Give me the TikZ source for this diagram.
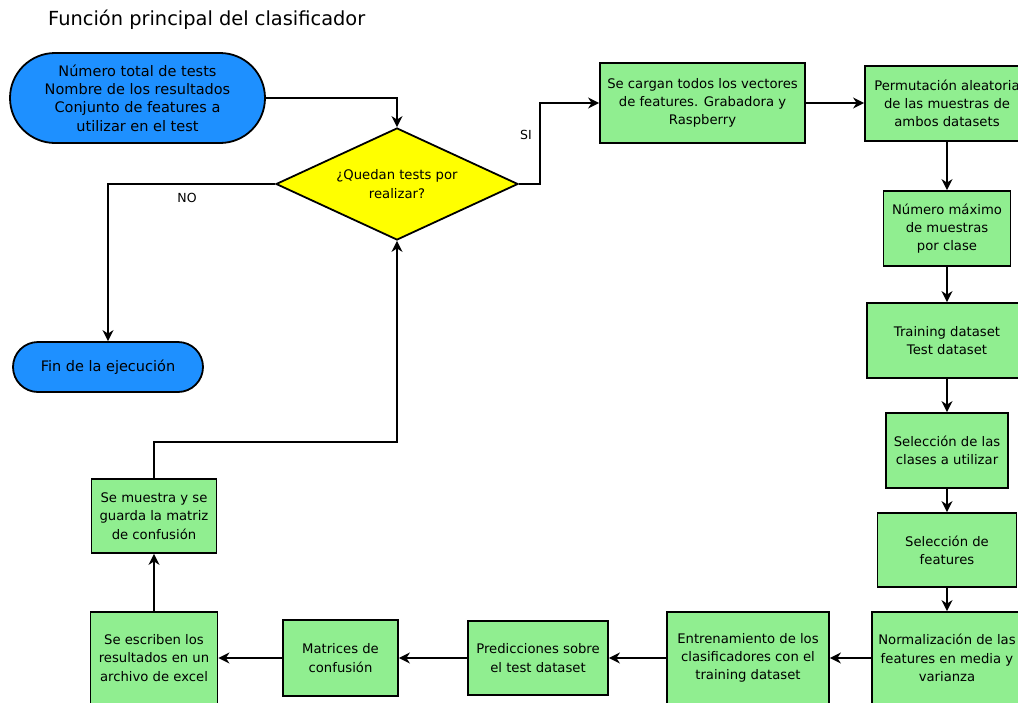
\documentclass[tikz,border=0pt]{standalone}
\usepackage{fontspec}
\setmainfont{DejaVu Sans}
\usetikzlibrary{shapes.geometric,arrows.meta}

\definecolor{termblue}{HTML}{1E90FF}
\definecolor{procgreen}{HTML}{90EE90}
\definecolor{decyellow}{HTML}{FFFF00}

\tikzset{
  base/.style={draw=black, line width=1.8pt, inner sep=0pt, align=center,
    font=\fontsize{13.2}{18.3}\selectfont},
  proc/.style={base, fill=procgreen, rectangle},
  term/.style={base, fill=termblue, rectangle,
    font=\fontsize{14.5}{18.3}\selectfont},
  decision/.style={base, fill=decyellow, diamond, aspect=2.16},
  arr/.style={draw=black, line width=2pt,
    -{Stealth[length=11pt, width=11pt, inset=3.5pt]}},
  lbl/.style={font=\fontsize{12.5}{15}\selectfont, inner sep=0pt},
}

\begin{document}
\begin{tikzpicture}[x=1pt, y=-1pt]
  \useasboundingbox (0,0) rectangle (1018,702);
  \clip (0,0) rectangle (1018,702);

  % title
  \node[font=\fontsize{19.4}{22}\selectfont, anchor=west, inner sep=0pt] (title) at (48,20)
    {Función principal del clasificador};

  % terminals and decision
  \node[term, minimum width=255pt, minimum height=90pt, rounded corners=45pt] (start) at (137.5,98)
    {Número total de tests\\Nombre de los resultados\\Conjunto de features a\\utilizar en el test};
  \node[term, minimum width=190pt, minimum height=50pt, rounded corners=25pt] (fin) at (108,367)
    {Fin de la ejecución};
  \node[decision, minimum width=242pt, minimum height=112pt] (dec) at (397,184)
    {¿Quedan tests por\\realizar?};

  % process boxes
  \node[proc, minimum width=205pt, minimum height=80pt] (b1) at (702.5,103)
    {Se cargan todos los vectores\\de features. Grabadora y\\Raspberry};
  \node[proc, minimum width=164pt, minimum height=75pt] (b2) at (947,103.5)
    {Permutación aleatoria\\de las muestras de\\ambos datasets};
  \node[proc, minimum width=127pt, minimum height=75pt] (b3) at (947,228.5)
    {Número máximo\\de muestras\\por clase};
  \node[proc, minimum width=160pt, minimum height=75pt] (b4) at (947,340.5)
    {Training dataset\\Test dataset};
  \node[proc, minimum width=122pt, minimum height=75pt] (b5) at (947,450.5)
    {Selección de las\\clases a utilizar};
  \node[proc, minimum width=139pt, minimum height=74pt] (b6) at (947,550)
    {Selección de\\features};
  \node[proc, minimum width=150pt, minimum height=92pt] (b7) at (947,658)
    {Normalización de las\\features en media y\\varianza};
  \node[proc, minimum width=162pt, minimum height=92pt] (b8) at (748,658)
    {Entrenamiento de los\\clasificadores con el\\training dataset};
  \node[proc, minimum width=140pt, minimum height=74pt] (b9) at (538,658)
    {Predicciones sobre\\el test dataset};
  \node[proc, minimum width=115pt, minimum height=76pt] (b10) at (340.5,658)
    {Matrices de\\confusión};
  \node[proc, minimum width=127pt, minimum height=92pt] (b11) at (154,658)
    {Se escriben los\\resultados en un\\archivo de excel};
  \node[proc, minimum width=125pt, minimum height=74pt] (b12) at (154,516)
    {Se muestra y se\\guarda la matriz\\de confusión};

  % connectors
  \draw[arr] (start.east) -| (dec.north);
  \draw[arr] (dec.west) -| (fin.north);
  \node[lbl] (no) at (187,198) {NO};
  \draw[arr] (dec.east) -- ++(21,0) |- (b1.west);
  \node[lbl] (si) at (526,135) {SI};
  \draw[arr] (b1.east) -- (b1.east -| b2.west);
  \draw[arr] (b2.south) -- (b3.north);
  \draw[arr] (b3.south) -- (b4.north);
  \draw[arr] (b4.south) -- (b5.north);
  \draw[arr] (b5.south) -- (b6.north);
  \draw[arr] (b6.south) -- (b7.north);
  \draw[arr] (b7.west) -- (b8.east);
  \draw[arr] (b8.west) -- (b9.east);
  \draw[arr] (b9.west) -- (b10.east);
  \draw[arr] (b10.west) -- (b11.east);
  \draw[arr] (b11.north) -- (b12.south);
  \draw[arr] (b12.north) -- ++(0,-36) -| (dec.south);
\end{tikzpicture}
\end{document}
